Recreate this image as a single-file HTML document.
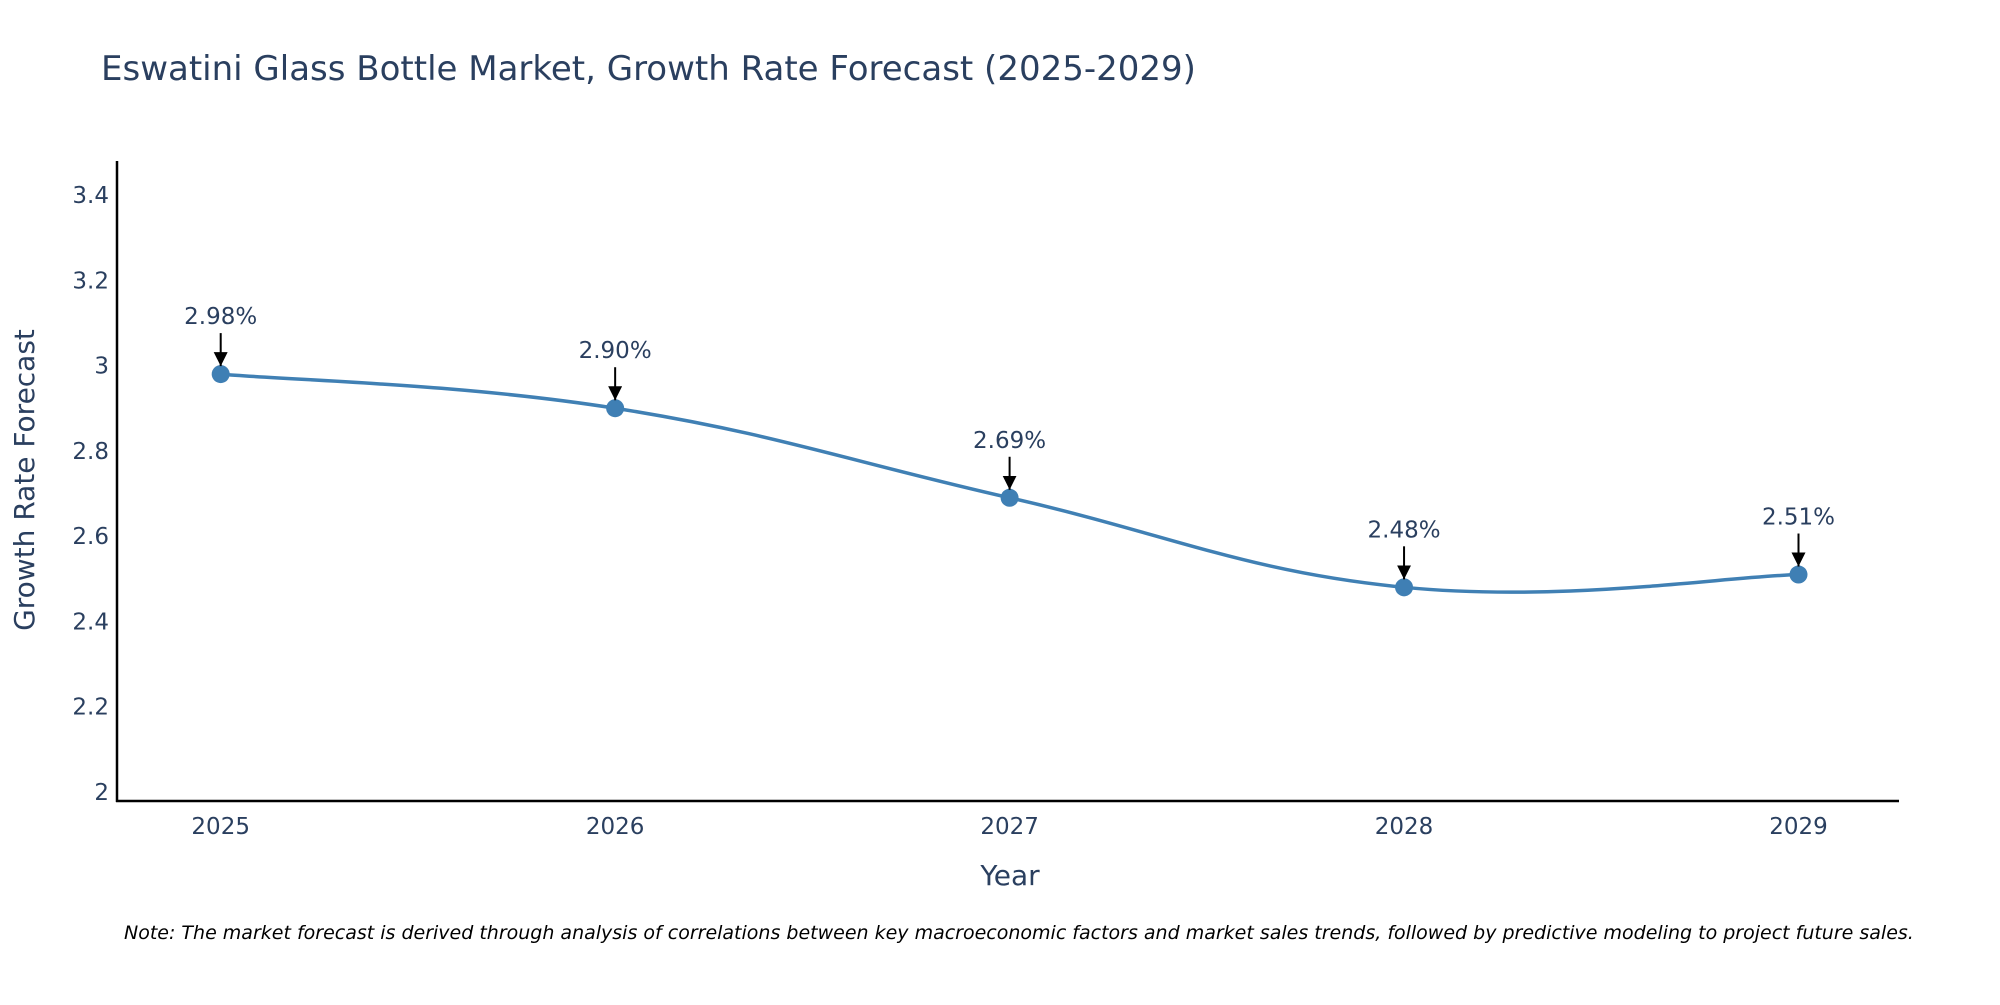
<!DOCTYPE html>
<html><head><meta charset="utf-8"><style>
body{margin:0;background:#fff;}
svg text{font-family:"DejaVu Sans","Liberation Sans",sans-serif;fill:#2a3f5f;}
</style></head><body>
<svg width="2000" height="1000" xmlns="http://www.w3.org/2000/svg">
<defs>
<marker id="arr" viewBox="0 0 10 10" refX="5" refY="10" markerWidth="14" markerHeight="14" markerUnits="userSpaceOnUse" orient="0"><path d="M0,0 L10,0 L5,10 z" fill="#000"/></marker></defs>
<text x="101" y="80" font-size="34">Eswatini Glass Bottle Market, Growth Rate Forecast (2025-2029)</text>
<g id="axes"></g>
<g id="plot"></g>
<text x="34" y="480" font-size="28" transform="rotate(-90 34 480)" text-anchor="middle">Growth Rate Forecast</text>
<text x="1010" y="885" font-size="28" text-anchor="middle">Year</text>
<text x="124" y="939" font-size="19" font-style="italic" style="fill:#000">Note: The market forecast is derived through analysis of correlations between key macroeconomic factors and market sales trends, followed by predictive modeling to project future sales.</text>
</svg>
<script>
const years=[2025,2026,2027,2028,2029];
const values=[2.98,2.90,2.69,2.48,2.51];
const labels=["2.98%","2.90%","2.69%","2.48%","2.51%"];
const yTicks=[2,2.2,2.4,2.6,2.8,3,3.2,3.4];
const yTickLabels=["2","2.2","2.4","2.6","2.8","3","3.2","3.4"];
const NS="http://www.w3.org/2000/svg";
const X=v=>220.7+(v-2025)*(1798.5-220.7)/4;
const Y=v=>792-(v-2)*(792-195)/1.4;
function mk(t,a,p){const e=document.createElementNS(NS,t);for(const k in a)e.setAttribute(k,a[k]);p.appendChild(e);return e;}
const ax=document.getElementById('axes'),pl=document.getElementById('plot');
let l=mk('line',{x1:117,y1:161,x2:117,y2:802,stroke:'#000','stroke-width':2.5},ax);


l=mk('line',{x1:116,y1:801,x2:1899,y2:801,stroke:'#000','stroke-width':2.5},ax);


yTicks.forEach((t,i)=>{const e=mk('text',{x:109,y:Y(t)+8,'font-size':23,'text-anchor':'end'},ax);e.textContent=yTickLabels[i];

});
years.forEach(y=>{const e=mk('text',{x:X(y),y:834,'font-size':23,'text-anchor':'middle'},ax);e.textContent=String(y);

});
const pts=years.map((y,i)=>[X(y),Y(values[i])]);
let d='M'+pts[0][0]+','+pts[0][1];
const s=0.2;
for(let i=0;i<pts.length-1;i++){const p0=pts[Math.max(0,i-1)],p1=pts[i],p2=pts[i+1],p3=pts[Math.min(pts.length-1,i+2)];
const c1=[p1[0]+(p2[0]-p0[0])*s,p1[1]+(p2[1]-p0[1])*s],c2=[p2[0]-(p3[0]-p1[0])*s,p2[1]-(p3[1]-p1[1])*s];
d+=` C${c1[0]},${c1[1]} ${c2[0]},${c2[1]} ${p2[0]},${p2[1]}`;}
const path=mk('path',{d:d,fill:'none',stroke:'#4080b4','stroke-width':3.5},pl);


pts.forEach((p,i)=>{const c=mk('circle',{cx:p[0],cy:p[1],r:9,fill:'#3f7fb4'},pl);


const a=mk('line',{x1:p[0],y1:p[1]-41,x2:p[0],y2:p[1]-8,stroke:'#000','stroke-width':2,'marker-end':'url(#arr)'},pl);


const t=mk('text',{x:p[0],y:p[1]-50,'font-size':23,'text-anchor':'middle'},pl);t.textContent=labels[i];

});
</script>
</body></html>
